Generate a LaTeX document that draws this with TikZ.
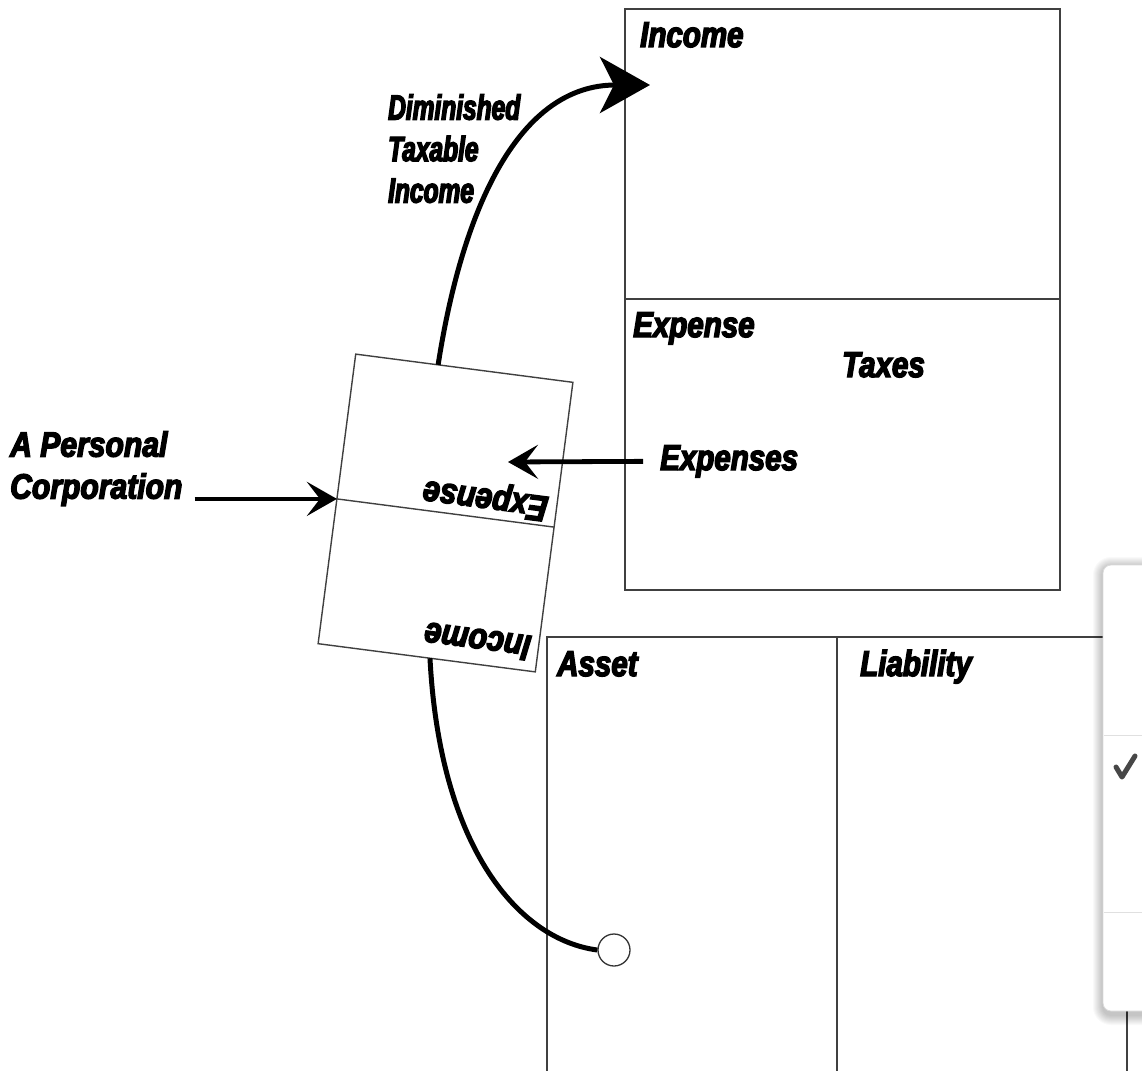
\documentclass[tikz,border=0pt]{standalone}
\usepackage{fontspec}
% heavy condensed oblique lettering
\newfontfamily\lblfont{Liberation Sans}[UprightFont=* Bold Italic, FakeStretch=0.82, FakeBold=4]
\newfontfamily\flipfont{Liberation Sans}[UprightFont=* Bold Italic, FakeStretch=0.85, FakeBold=4]
\newfontfamily\sidefont{Liberation Sans}[UprightFont=* Bold Italic, FakeStretch=0.86, FakeBold=4]
\newfontfamily\narrowfont{Liberation Sans}[UprightFont=* Bold Italic, FakeStretch=0.7, FakeBold=4]
\usetikzlibrary{arrows.meta}
\begin{document}
\begin{tikzpicture}[x=1pt,y=-1pt,
  boxline/.style={draw=black!75, line width=1.4pt},
  lbl/.style={font=\lblfont\fontsize{36}{41.5}\selectfont,
              inner sep=0pt, anchor=base west},
  fliplbl/.style={lbl, font=\flipfont\fontsize{36}{41.5}\selectfont},
  sidelbl/.style={lbl, font=\sidefont\fontsize{35}{42}\selectfont, anchor=north west, align=left},
  narrowlbl/.style={lbl, font=\narrowfont\fontsize{35}{41.5}\selectfont, anchor=north west, align=left},
  flow/.style={line width=4.8pt, -{Stealth[length=30pt,width=34pt,inset=13pt]}},
  bigflow/.style={line width=5pt, -{Stealth[length=50pt,width=56pt,inset=14pt]}},
  curve/.style={line width=5pt},
]
\fill[white] (0,0) rectangle (1142,1070);
\useasboundingbox (0,0) rectangle (1142,1070);

% income statement: income over expense
\draw[boxline] (625,9) rectangle (1060,590);
\draw[boxline] (625,299) -- (1060,299);
\node[lbl] (inc) at (640,47) {Income};
\node[lbl] (exp) at (633,337) {Expense};
\node[lbl] (tax) at (842,377) {Taxes};
\node[lbl] (exps) at (660,470) {Expenses};

% balance sheet: asset | liability
\draw[boxline] (547,1080) -- (547,637) -- (1127,637) -- (1127,1080);
\draw[boxline] (837,637) -- (837,1080);
\node[lbl] (ast) at (557,676) {Asset};
\node[lbl] (lia) at (860,676) {Liability};

% the corporation's statement, turned upside down
\begin{scope}[shift={(445.5,513)}, rotate=172.6]
  \draw[boxline, fill=white] (-109.5,-146) rectangle (109.5,146);
  \draw[boxline] (-109.5,0) -- (109.5,0);
  \node[fliplbl, transform shape] (tinc) at (-102,-111) {Income};
  \node[fliplbl, transform shape] (texp) at (-101,29) {Expense};
  \coordinate (tbW) at (109.5,0);
  \coordinate (tbTop) at (26.4,146);
  \coordinate (tbBot) at (-3.3,-146);
\end{scope}

% side labels
\node[narrowlbl] (dti) at (388,94) {Diminished\\Taxable\\Income};
\node[sidelbl] (pc) at (10,431) {A Personal\\Corporation};

% connectors
\coordinate (incTip) at (650,85);
\coordinate (expTip) at (508,462);
\node[draw=black!80, line width=1.3pt, circle, minimum size=32pt, inner sep=0pt, fill=white] (dot) at (614,950) {};

\draw[bigflow] (tbTop) .. controls (463,205) and (520,85) .. (incTip);
\draw[curve] (tbBot) .. controls (440,850) and (520,940) .. (dot.west);
\draw[flow] ([xshift=-17pt]exps.west) -- (expTip);
\draw[flow] ([xshift=12pt]pc.east |- tbW) -- (tbW);

% pop-up menu at the right edge
\foreach \i in {1,...,10}
  \fill[black, opacity=0.025, rounded corners=8+\i] (1103-\i,567-\i) rectangle (1190+\i,1015+\i);
\fill[white, rounded corners=8] (1103,565) rectangle (1190,1011);
\draw[black!14, line width=0.8pt, rounded corners=8] (1103,565) rectangle (1190,1011);
\draw[black!12, line width=1pt] (1104,735) -- (1142,735);
\draw[black!12, line width=1pt] (1104,912) -- (1142,912);
\draw[black!72, line width=5pt, line cap=round, line join=round] (1116,767) -- (1122,777) -- (1135,756);
\end{tikzpicture}
\end{document}
